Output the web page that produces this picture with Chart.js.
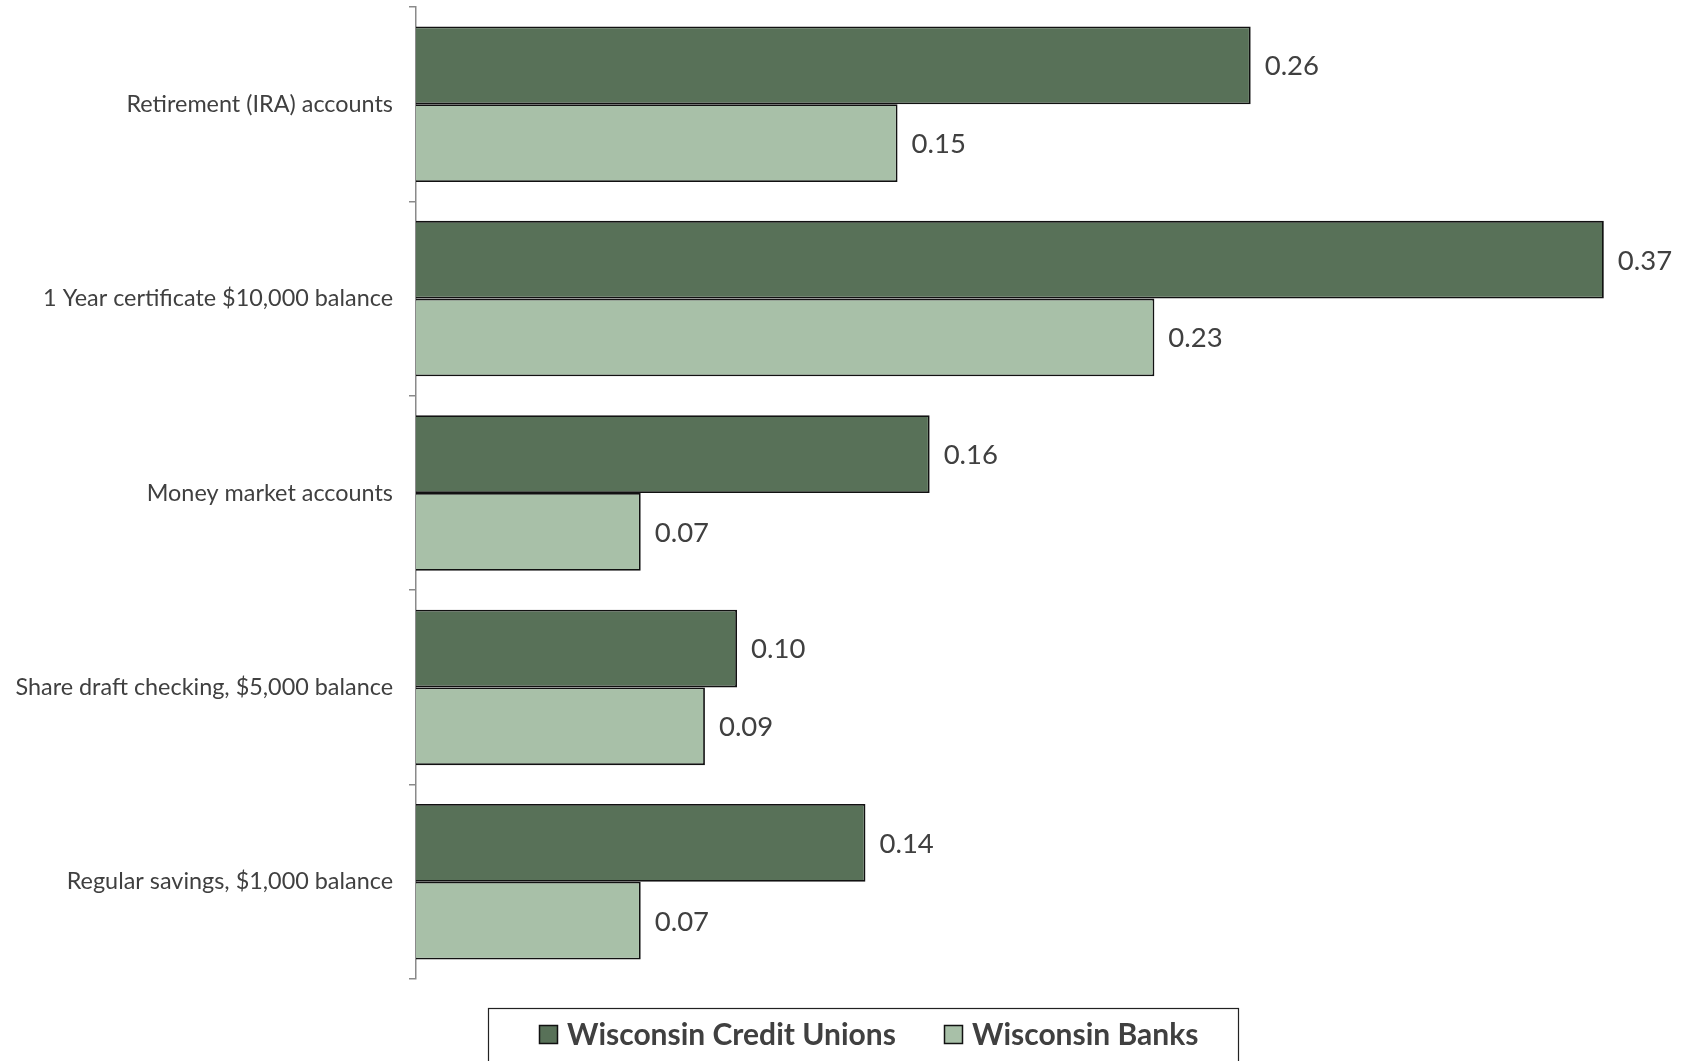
<!DOCTYPE html>
<html>
<head>
<meta charset="utf-8">
<title>Deposit rates</title>
<script src="https://cdn.jsdelivr.net/npm/chart.js@4.4.1/dist/chart.umd.min.js"></script>
<style>
  html, body { margin: 0; padding: 0; background: #fff; }
  #wrap { width: 1681px; height: 1061px; }
</style>
</head>
<body>
<div id="wrap"><canvas id="rates" width="1681" height="1061"></canvas></div>
<script>
const categories = [
  'Retirement (IRA) accounts',
  '1 Year certificate $10,000 balance',
  'Money market accounts',
  'Share draft checking, $5,000 balance',
  'Regular savings, $1,000 balance'
]
const creditUnions = [0.26, 0.37, 0.16, 0.10, 0.14]
const banks = [0.15, 0.23, 0.07, 0.09, 0.07]
const seriesNames = ['Wisconsin Credit Unions', 'Wisconsin Banks']

const darkGreen = '#587158'
const lightGreen = '#a8c0a8'
const textGrey = '#404040'
const FONT = 'Lato, "Open Sans", sans-serif'

// numbers printed next to the end of each bar
const valueLabels = {
  id: 'valueLabels',
  afterDatasetsDraw(chart) {
    const c = chart.ctx
    c.save()
    c.font = '27.5px ' + FONT
    c.fillStyle = textGrey
    c.textAlign = 'left'
    c.textBaseline = 'middle'
    chart.data.datasets.forEach((ds, i) => {
      chart.getDatasetMeta(i).data.forEach((bar, j) => {
        c.fillText(ds.data[j].toFixed(2), bar.x + 14, bar.y + 1)
      })
    })
    c.restore()
  }
}

// boxed legend under the plot
const boxLegend = {
  id: 'boxLegend',
  afterDraw(chart) {
    const c = chart.ctx
    c.save()
    c.strokeStyle = '#222'
    c.lineWidth = 1.2
    c.strokeRect(488.5, 1008.5, 750, 70)
    c.font = 'bold 30px ' + FONT
    c.textBaseline = 'middle'
    const starts = [539, 944]
    chart.data.datasets.forEach((ds, i) => {
      const x = starts[i]
      c.fillStyle = ds.backgroundColor
      c.fillRect(x, 1025, 19, 19)
      c.strokeStyle = '#111'
      c.lineWidth = 1.5
      c.strokeRect(x + 0.5, 1025.5, 18, 18)
      c.fillStyle = textGrey
      c.fillText(ds.label, x + 28, 1035)
    })
    c.restore()
  }
}

new Chart(document.getElementById('rates'), {
  type: 'bar',
  data: {
    labels: categories,
    datasets: [
      { label: seriesNames[0], data: creditUnions, backgroundColor: darkGreen },
      { label: seriesNames[1], data: banks, backgroundColor: lightGreen }
    ]
  },
  options: {
    indexAxis: 'y',
    responsive: false,
    animation: false,
    events: [],
    layout: { padding: { top: 7, bottom: 82, left: 0, right: 21 } },
    datasets: {
      bar: {
        borderColor: '#111',
        borderWidth: 1.8,
        categoryPercentage: 0.8,
        barPercentage: 1
      }
    },
    scales: {
      x: { display: false, min: 0, max: 0.3875 },
      y: {
        // fixed axis width, and no extra room reserved for the first/last label
        afterFit: (scale) => {
          scale.width = 416
          scale.paddingTop = 0
          scale.paddingBottom = 0
        },
        grid: {
          offset: true,
          drawOnChartArea: false,
          tickLength: 7,
          color: '#8a8a8a',
          lineWidth: 1.5
        },
        border: { color: '#8a8a8a', width: 1.5 },
        ticks: {
          padding: 16,
          color: textGrey,
          font: { family: FONT, size: 23.4 }
        }
      }
    },
    plugins: {
      legend: { display: false },
      tooltip: { enabled: false }
    }
  },
  plugins: [valueLabels, boxLegend]
})
</script>
</body>
</html>
